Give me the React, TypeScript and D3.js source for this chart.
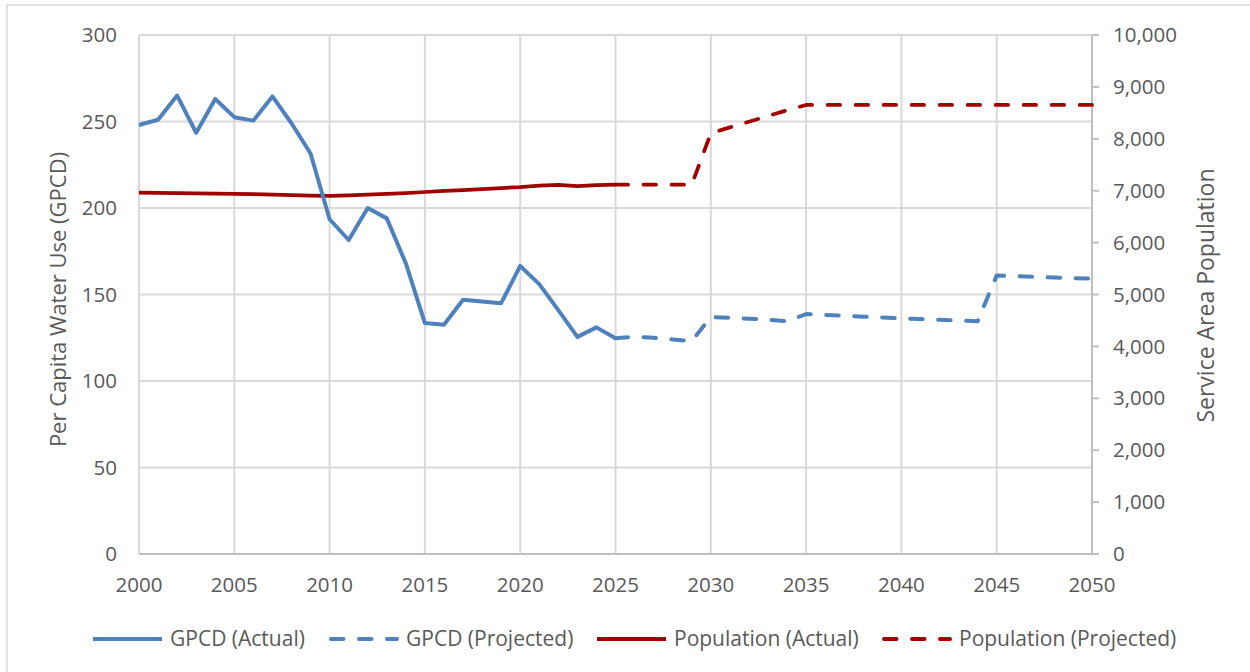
import React from "react";
import * as d3 from "d3";

const actualYears = d3.range(2000, 2026);
const projectedYears = d3.range(2025, 2051);

const gpcdActual = [248, 251, 265, 243.5, 263, 252.5, 250.5, 264.5, 249, 231.5, 193.5, 181.5, 200, 194, 168, 133.5, 132.5, 147, 146, 145, 166.5, 156, 141, 125.5, 131, 124.7];
const gpcdProjected = [124.7, 125.6, 125, 124, 123.1, 137, 136.5, 136, 135.4, 134.6, 138.7, 138.2, 137.7, 137.2, 136.7, 136.2, 135.8, 135.4, 135, 134.6, 161, 160.6, 160.2, 159.8, 159.5, 159.2];
const popActual = [6963, 6958, 6953, 6948, 6943, 6938, 6932, 6925, 6915, 6905, 6898, 6912, 6926, 6940, 6955, 6975, 6995, 7010, 7030, 7050, 7070, 7100, 7112, 7090, 7108, 7115];
const popProjected = [7115, 7115, 7115, 7115, 7115, 8106, 8220, 8330, 8440, 8550, 8652, 8652, 8652, 8652, 8652, 8652, 8652, 8652, 8652, 8652, 8652, 8652, 8652, 8652, 8652, 8652];

const xTicks = d3.range(2000, 2051, 5);
const leftTicks = [0, 50, 100, 150, 200, 250, 300];
const rightTicks = d3.range(0, 10001, 1000);

const legendItems = [
  { label: "GPCD (Actual)", color: "#4f81bd", dashed: false },
  { label: "GPCD (Projected)", color: "#4f81bd", dashed: true },
  { label: "Population (Actual)", color: "#a00000", dashed: false },
  { label: "Population (Projected)", color: "#a00000", dashed: true },
];

const BLUE = "#4f81bd";
const RED = "#a00000";
const TEXT = "#595959";
const FONT = "'Open Sans', sans-serif";
const TICK_FS = 20.5;
const LEGEND_FS = 21;

export default function App() {
  const x = d3.scaleLinear().domain([2000, 2050]).range([139, 1092]);
  const yL = d3.scaleLinear().domain([0, 300]).range([554, 35]);
  const yR = d3.scaleLinear().domain([0, 10000]).range([554, 35]);

  const lineL = d3.line<[number, number]>().x((d) => x(d[0])).y((d) => yL(d[1]));
  const lineR = d3.line<[number, number]>().x((d) => x(d[0])).y((d) => yR(d[1]));

  const zip = (ys: number[], vs: number[]) => ys.map((y, i) => [y, vs[i]] as [number, number]);

  const legendX = [93, 329, 597, 882];

  return (
    <svg width={1250} height={672} style={{ position: "absolute", left: 0, top: 0, background: "#fff" }} fontFamily={FONT}>
      <rect x={7} y={5} width={1260} height={680} fill="#fff" stroke="#d9d9d9" strokeWidth={1.5} />
      {leftTicks.filter((t) => t > 0).map((t) => (
        <line key={"h" + t} x1={x(2000)} x2={x(2050)} y1={yL(t)} y2={yL(t)} stroke="#d9d9d9" strokeWidth={2} />
      ))}
      {xTicks.map((t) => (
        <line key={"v" + t} x1={x(t)} x2={x(t)} y1={yL(300)} y2={yL(0)} stroke="#d9d9d9" strokeWidth={2} />
      ))}
      <line x1={x(2000)} x2={x(2050) + 7} y1={yL(0)} y2={yL(0)} stroke="#bfbfbf" strokeWidth={2} />
      <line x1={x(2050)} x2={x(2050)} y1={yR(10000)} y2={yR(0)} stroke="#bfbfbf" strokeWidth={2} />
      {rightTicks.map((t) => (
        <line key={"rt" + t} x1={x(2050)} x2={x(2050) + 7} y1={yR(t)} y2={yR(t)} stroke="#bfbfbf" strokeWidth={2} />
      ))}
      {leftTicks.map((t) => (
        <text key={"lt" + t} x={117} y={yL(t)} dy="0.35em" textAnchor="end" fontSize={TICK_FS} fill={TEXT}>
          {t}
        </text>
      ))}
      {rightTicks.map((t) => (
        <text key={"rl" + t} x={1113} y={yR(t)} dy="0.35em" textAnchor="start" fontSize={TICK_FS} fill={TEXT}>
          {d3.format(",")(t)}
        </text>
      ))}
      {xTicks.map((t) => (
        <text key={"xl" + t} x={x(t)} y={585} dy="0.35em" textAnchor="middle" fontSize={TICK_FS} fill={TEXT}>
          {t}
        </text>
      ))}
      <text transform={`translate(58,${yL(150) + 5}) rotate(-90)`} textAnchor="middle" dy="0.35em" fontSize={22} fill={TEXT}>
        Per Capita Water Use (GPCD)
      </text>
      <text transform={`translate(1206,${yR(5000) + 1}) rotate(-90)`} textAnchor="middle" dy="0.35em" fontSize={23} fill={TEXT}>
        Service Area Population
      </text>
      <path d={lineR(zip(actualYears, popActual)) ?? ""} fill="none" stroke={RED} strokeWidth={3.75} strokeLinejoin="round" />
      <path d={lineR(zip(projectedYears, popProjected)) ?? ""} fill="none" stroke={RED} strokeWidth={3.75} strokeDasharray="12.5 15.5" strokeLinecap="round" strokeLinejoin="round" />
      <path d={lineL(zip(actualYears, gpcdActual)) ?? ""} fill="none" stroke={BLUE} strokeWidth={4} strokeLinejoin="round" />
      <path d={lineL(zip(projectedYears, gpcdProjected)) ?? ""} fill="none" stroke={BLUE} strokeWidth={4} strokeDasharray="12.5 15.5" strokeLinecap="round" strokeLinejoin="round" />
      {legendItems.map((it, i) => (
        <g key={"lg" + i} transform={`translate(${legendX[i]},639)`}>
          <line x1={it.dashed ? 2 : 0} x2={it.dashed ? 68 : 69} y1={0} y2={0} stroke={it.color} strokeWidth={4} strokeDasharray={it.dashed ? "12.5 15.5" : undefined} strokeLinecap={it.dashed ? "round" : "butt"} />
          <text x={77} y={0} dy="0.35em" fontSize={LEGEND_FS} fill={TEXT}>
            {it.label}
          </text>
        </g>
      ))}
    </svg>
  );
}
